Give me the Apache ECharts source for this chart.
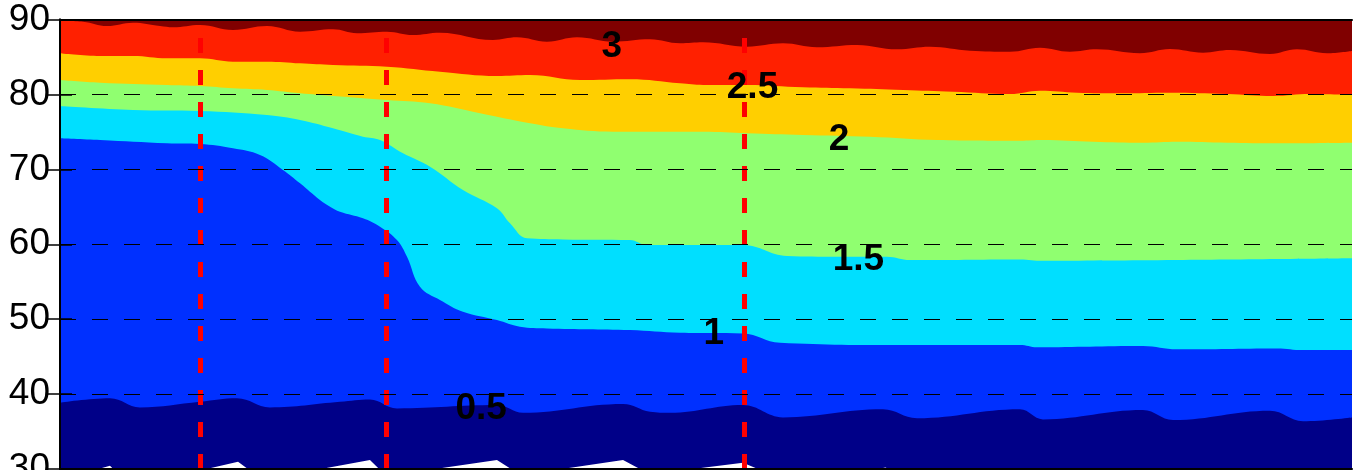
<!DOCTYPE html>
<html>
<head>
<meta charset="utf-8">
<script src="https://cdn.jsdelivr.net/npm/echarts/dist/echarts.min.js"></script>
<style>
  html, body { margin: 0; padding: 0; background: #fff; }
  #chart { width: 1353px; height: 470px; }
</style>
</head>
<body>
<div id="chart"></div>
<script>
// contour boundaries, [x, y] pairs, one array per level
const level3 = [[0,89.84],[1.78,89.71],[3.64,89.13],[5.65,89.57],[7.74,89.13],[8.75,88.96],[10.84,89.27],[13.39,88.60],[16.02,89.13],[18.58,88.37],[21.13,88.69],[22.99,88.16],[25.31,88.37],[27.32,87.93],[29.41,88.24],[33.51,87.26],[35.37,87.62],[37.69,87.04],[40.02,87.62],[42.80,87.04],[45.67,87.36],[47.99,86.82],[49.77,86.95],[53.17,86.37],[55.96,86.82],[58.59,86.29],[61.69,86.60],[64.78,86.02],[67.34,86.37],[70.43,85.83],[73.53,85.70],[75.85,86.24],[78.17,85.70],[80.26,86.02],[83.59,85.49],[85.91,86.06],[88.47,85.57],[90.56,85.93],[93.65,85.39],[95.74,86.02],[98.07,85.49],[100,85.79]]
const level25 = [[0,85.49],[3.10,85.13],[5.65,85.13],[8.28,84.82],[10.84,84.82],[13.39,84.37],[16.02,84.37],[18.58,84.15],[21.13,83.93],[25.31,83.70],[29.41,83.03],[33.82,82.46],[36.38,82.59],[40.25,81.92],[44.12,82.02],[47.99,81.48],[49.77,81.26],[53.17,81.26],[57.51,80.95],[61.15,80.81],[65.25,80.59],[69.12,80.36],[73.53,80.05],[75.85,80.49],[78.72,80.23],[82.04,80.15],[85.91,80.23],[90.33,80.05],[93.89,79.79],[96.75,80.05],[100,79.92]]
const level2 = [[0,81.92],[3.10,81.56],[8.28,81.26],[10.84,81.12],[13.39,80.81],[16.02,80.59],[18.58,80.15],[21.13,79.79],[25.31,79.25],[28.64,78.81],[32.51,77.48],[36.38,76.14],[38.93,75.47],[42.80,75.02],[47.99,75.02],[49.77,75.02],[53.17,74.81],[57.51,74.58],[62.69,74.35],[67.88,73.91],[74.30,73.82],[76.08,73.91],[79.95,73.68],[83.82,73.55],[86.46,73.68],[90.33,73.55],[94.20,73.47],[100,73.55]]
const level15 = [[0,78.45],[5.65,77.92],[10.84,77.78],[16.02,77.25],[18.58,76.58],[21.13,75.47],[23.45,74.35],[24.77,73.91],[26.55,72.14],[28.64,70.35],[31.19,67.24],[33.82,64.79],[34.83,62.79],[36.15,60.79],[38.93,60.65],[44.12,60.56],[45.43,59.89],[47.99,59.89],[52.86,59.89],[56.27,58.42],[60.14,58.33],[64.01,58.33],[65.79,57.89],[74.30,57.98],[76.08,57.80],[86.46,57.89],[100,58.12]]
const level1 = [[0,74.14],[3.10,73.91],[8.28,73.47],[10.84,73.38],[13.39,72.80],[15.48,71.91],[17.26,69.91],[18.58,68.13],[20.12,65.90],[20.90,65.01],[21.67,64.34],[23.45,63.46],[24.77,62.34],[26.08,60.56],[26.86,58.33],[27.86,54.33],[29.41,52.56],[31.19,50.99],[33.82,49.88],[35.60,48.99],[37.69,48.77],[44.12,48.55],[47.99,48.18],[52.86,48.10],[55.73,46.85],[65.25,46.54],[74.30,46.54],[75.62,46.24],[83.82,46.41],[86.46,45.97],[94.20,46.10],[96.21,45.87],[100,45.87]]
const level05 = [[0,38.84],[3.87,39.43],[6.19,38.22],[10.84,38.97],[13.70,39.43],[16.25,38.22],[21.67,38.97],[23.99,39.29],[26.08,38.09],[33.82,38.53],[35.84,37.50],[43.58,38.67],[45.67,37.64],[47.21,37.50],[52.86,38.53],[55.96,36.89],[63.70,37.96],[66.33,36.76],[74.30,37.96],[76.08,36.62],[83.82,37.86],[86.15,36.53],[93.65,37.77],[96.21,36.39],[100,36.89]]
const level0 = [[0,29.5],[2.55,29.8],[3.87,30.43],[4.41,29.5],[10.84,29.8],[13.78,30.96],[14.94,29.5],[19.89,29.9],[23.99,31.19],[25.0,29.5],[28.64,29.9],[33.82,31.19],[35.37,29.5],[38.47,29.9],[43.58,31.19],[45.43,29.5],[48.53,29.9],[52.86,30.83],[54.72,29.5],[63.0,29.9],[63.9,30.2],[64.6,29.5],[74.0,29.9],[74.3,30.05],[74.6,29.6],[100,29.6]]

const bands = [
  { name: '3', data: level3, color: '#ff2000' },
  { name: '2.5', data: level25, color: '#ffcf00' },
  { name: '2', data: level2, color: '#90ff70' },
  { name: '1.5', data: level15, color: '#00dfff' },
  { name: '1', data: level1, color: '#0030ff' },
  { name: '0.5', data: level05, color: '#000088' },
  { name: '0', data: level0, color: '#ffffff' }
]

const contourLabels = [[42.7,86.4,'3'],[53.6,80.9,'2.5'],[60.3,73.95,'2'],[61.8,57.9,'1.5'],[50.6,48.0,'1'],[32.6,38.1,'0.5']]
const markX = [10.87, 25.23, 52.94]
const yMin = 30, yMax = 90, yStep = 10

const chart = echarts.init(document.getElementById('chart'))

const series = bands.map(b => ({
  name: b.name,
  type: 'line',
  data: b.data,
  smooth: b.name === '0' ? false : 0.4,
  symbol: 'none',
  lineStyle: { width: 0 },
  areaStyle: { color: b.color, opacity: 1, origin: 'start' },
  silent: true,
  z: 2
}))

series.push({
  type: 'line',
  data: [],
  silent: true,
  z: 8,
  markLine: {
    silent: true,
    symbol: 'none',
    label: { show: false },
    lineStyle: { color: '#ff0000', width: 5, type: [15, 17], opacity: 1 },
    data: markX.map(v => [{ coord: [v, yMin] }, { coord: [v, yMax] }])
  }
})

series.push({
  type: 'scatter',
  data: contourLabels,
  symbolSize: 1,
  itemStyle: { color: 'transparent' },
  silent: true,
  z: 20,
  label: {
    show: true,
    position: 'inside',
    formatter: p => p.value[2],
    color: '#000000',
    textBorderWidth: 0,
    textBorderColor: 'transparent',
    opacity: 1,
    fontSize: 37,
    fontWeight: 'bold',
    fontFamily: 'Liberation Sans, Arial, sans-serif'
  }
})

chart.setOption({
  animation: false,
  grid: {
    left: 60, right: 1, top: 19.5, bottom: 1,
    outerBoundsMode: 'none', containLabel: false,
    show: true, backgroundColor: '#800000', borderWidth: 0
  },
  xAxis: [
    {
      type: 'value', min: 0, max: 100, position: 'bottom',
      axisLine: { show: true, onZero: false, lineStyle: { color: '#000', width: 2 } },
      axisTick: { show: false }, axisLabel: { show: false }, splitLine: { show: false }, z: 10
    },
    {
      type: 'value', min: 0, max: 100, position: 'top',
      axisLine: { show: true, onZero: false, lineStyle: { color: '#000', width: 2 } },
      axisTick: { show: false }, axisLabel: { show: false }, splitLine: { show: false }, z: 10
    }
  ],
  yAxis: [
    {
      type: 'value', min: yMin, max: yMax, interval: yStep, position: 'left',
      axisLine: { show: true, lineStyle: { color: '#000', width: 2 } },
      axisTick: { show: true, inside: true, length: 12, lineStyle: { color: '#000', width: 1.5 } },
      axisLabel: { color: '#000', fontSize: 37, margin: 10, fontFamily: 'Liberation Sans, Arial, sans-serif' },
      splitLine: { show: true, lineStyle: { color: '#000', width: 1, type: [16, 16] } },
      z: 6
    },
    {
      type: 'value', min: yMin, max: yMax, interval: yStep, position: 'right',
      axisLine: { show: true, lineStyle: { color: '#000', width: 2 } },
      axisTick: { show: true, inside: true, length: 12, lineStyle: { color: '#000', width: 1.5 } },
      axisLabel: { show: false },
      splitLine: { show: false },
      z: 6
    }
  ],
  series: series
})
</script>
</body>
</html>
